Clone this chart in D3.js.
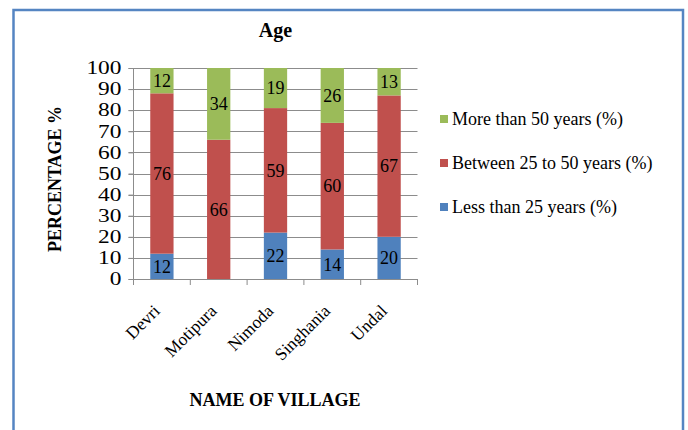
<!DOCTYPE html>
<html>
<head>
<meta charset="utf-8">
<script src="https://cdn.jsdelivr.net/npm/d3@7"></script>
<style>
  html, body { margin: 0; padding: 0; background: #fff; }
  svg { display: block; }
  text { font-family: "Liberation Serif", "Times New Roman", serif; fill: #000; }
</style>
</head>
<body>
<svg id="chart" width="688" height="430"></svg>
<script>
const villages = ["Devri", "Motipura", "Nimoda", "Singhania", "Undal"];
const lessThan25 = [12, 0, 22, 14, 20];
const between25to50 = [76, 66, 59, 60, 67];
const moreThan50 = [12, 34, 19, 26, 13];
const seriesNames = ["Less than 25 years (%)", "Between 25 to 50 years (%)", "More than 50 years (%)"];
const seriesColors = ["#4F81BD", "#C0504D", "#9BBB59"];
const yTicks = [0, 10, 20, 30, 40, 50, 60, 70, 80, 90, 100];

const svg = d3.select("#chart");

// outer border
svg.append("rect")
  .attr("x", 13.5).attr("y", 10).attr("width", 669.5).attr("height", 440)
  .attr("fill", "#fff").attr("stroke", "#5585c2").attr("stroke-width", 2.5);

const x = d3.scaleBand().domain(villages).range([133.5, 417.5]).padding(0);
const y = d3.scaleLinear().domain([0, 100]).range([279, 68]);
const barW = x.bandwidth() * 0.41;

// gridlines
svg.append("g").selectAll("line").data(yTicks.filter(d => d > 0)).join("line")
  .attr("x1", 128.5).attr("x2", 417.5)
  .attr("y1", d => Math.round(y(d)) + 0.5).attr("y2", d => Math.round(y(d)) + 0.5)
  .attr("stroke", "#8c8c8c").attr("stroke-width", 1);

// y axis
const yAxis = d3.axisLeft(y).tickValues(yTicks).tickSize(5).tickPadding(6);
const gy = svg.append("g").attr("transform", "translate(133.5,0)").call(yAxis);
gy.attr("font-family", null);
gy.select(".domain").attr("stroke", "#8c8c8c").attr("d", `M0,${y(100)}V${y(0)}`);
gy.selectAll(".tick line").attr("stroke", "#8c8c8c");
gy.selectAll(".tick text")
  .attr("x", 0)
  .attr("transform", "translate(-12,0) scale(1.3,1)")
  .attr("font-size", 18).attr("fill", "#000");

// x axis baseline + ticks
svg.append("line").attr("x1", 128.5).attr("x2", 417.5).attr("y1", y(0) + 0.5).attr("y2", y(0) + 0.5)
  .attr("stroke", "#8c8c8c");
const bounds = villages.map(v => x(v)).concat([x.range()[1]]);
svg.append("g").selectAll("line").data(bounds).join("line")
  .attr("x1", d => d).attr("x2", d => d).attr("y1", y(0)).attr("y2", y(0) + 6)
  .attr("stroke", "#8c8c8c");

// stacked data
const table = villages.map((v, i) => ({ village: v, s0: lessThan25[i], s1: between25to50[i], s2: moreThan50[i] }));
const stack = d3.stack().keys(["s0", "s1", "s2"])(table);

stack.forEach((layer, li) => {
  const g = svg.append("g");
  g.selectAll("rect").data(layer).join("rect")
    .attr("x", d => x(d.data.village) + x.bandwidth() / 2 - barW / 2)
    .attr("width", barW)
    .attr("y", d => y(d[1]))
    .attr("height", d => y(d[0]) - y(d[1]))
    .attr("fill", seriesColors[li]);
  g.selectAll("text").data(layer.filter(d => d[1] - d[0] > 0)).join("text")
    .attr("x", d => x(d.data.village) + x.bandwidth() / 2)
    .attr("y", d => (y(d[0]) + y(d[1])) / 2)
    .attr("dy", "0.35em")
    .attr("text-anchor", "middle")
    .attr("font-size", 18)
    .text(d => d[1] - d[0]);
});

// x labels rotated
svg.append("g").selectAll("text").data(villages).join("text")
  .attr("transform", v => `translate(${x(v) + x.bandwidth() / 2 - 1},312) rotate(-45)`)
  .attr("text-anchor", "end")
  .attr("font-size", 17.5)
  .text(v => v);

// titles
svg.append("text").attr("x", 275.5).attr("y", 36.5).attr("text-anchor", "middle")
  .attr("font-size", 20).attr("font-weight", "bold").text("Age");
svg.append("text").attr("transform", "translate(61,179) rotate(-90)").attr("text-anchor", "middle")
  .attr("font-size", 18).attr("font-weight", "bold").text("PERCENTAGE %");
svg.append("text").attr("x", 275).attr("y", 406).attr("text-anchor", "middle")
  .attr("font-size", 18).attr("font-weight", "bold").text("NAME OF VILLAGE");

// legend (top to bottom: reversed series order)
const legendOrder = [2, 1, 0];
const lg = svg.append("g").selectAll("g").data(legendOrder).join("g")
  .attr("transform", (d, i) => `translate(440,${115 + i * 44})`);
lg.append("rect").attr("width", 8).attr("height", 8).attr("fill", d => seriesColors[d]);
lg.append("text").attr("x", 12).attr("y", 10).attr("font-size", 18).text(d => seriesNames[d]);
</script>
</body>
</html>
